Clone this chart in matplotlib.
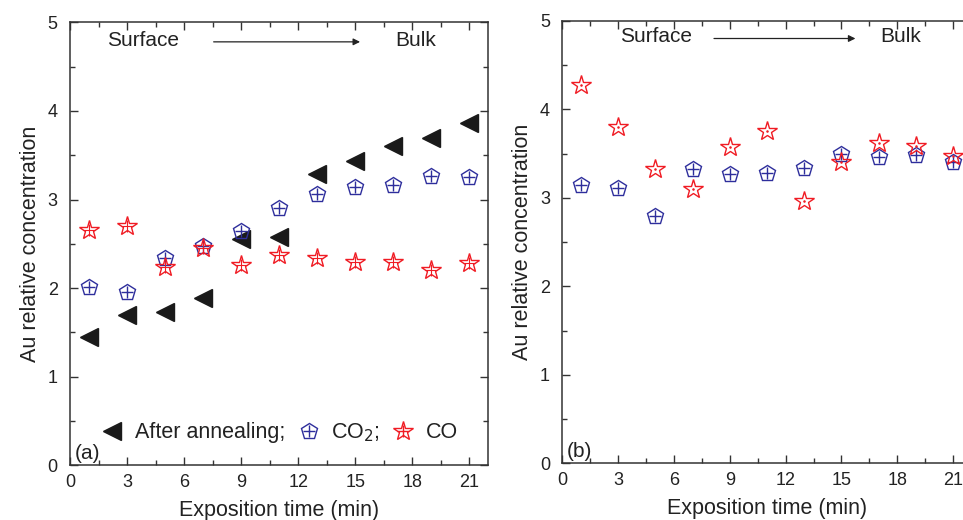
import matplotlib
matplotlib.use("Agg")
import matplotlib.pyplot as plt
from matplotlib.ticker import MultipleLocator
from matplotlib.lines import Line2D

plt.rcParams["font.family"] = ["Liberation Sans", "DejaVu Sans"]

# ---- data ----
time_min = [1, 3, 5, 7, 9, 11, 13, 15, 17, 19, 21]

# panel (a)
annealed_a = [1.45, 1.70, 1.73, 1.89, 2.55, 2.58, 3.29, 3.44, 3.60, 3.70, 3.86]
co2_a = [2.01, 1.96, 2.34, 2.48, 2.64, 2.91, 3.06, 3.14, 3.16, 3.27, 3.25]
co_a = [2.66, 2.70, 2.24, 2.45, 2.26, 2.37, 2.34, 2.29, 2.29, 2.21, 2.28]

# panel (b)
co2_b = [3.14, 3.11, 2.79, 3.33, 3.27, 3.28, 3.34, 3.50, 3.46, 3.48, 3.41]
co_b = [4.27, 3.80, 3.33, 3.10, 3.57, 3.76, 2.96, 3.41, 3.62, 3.58, 3.47]

BLUE = "#2e2e9c"
RED = "#f01c24"
INK = "#222222"

fig = plt.figure(figsize=(9.63, 5.2), dpi=100)
ax_a = fig.add_axes([0.073, 0.105, 0.434, 0.852])
ax_b = fig.add_axes([0.584, 0.109, 0.425, 0.851])


def pentagons(ax, y):
    ax.plot(time_min, y, linestyle="none", marker="p", ms=12,
            mfc="none", mec=BLUE, mew=1.0)
    ax.plot(time_min, y, linestyle="none", marker="+", ms=9,
            mec=BLUE, mew=1.0)


def stars(ax, y, inner):
    ax.plot(time_min, y, linestyle="none", marker="*", ms=15,
            mfc="none", mec=RED, mew=1.0)
    ax.plot(time_min, y, linestyle="none", marker=inner,
            ms=8 if inner == "+" else 2, mec=RED, mfc=RED, mew=0.8)


# ---- panel (a) ----
ax_a.plot(time_min, annealed_a, linestyle="none", marker="<", ms=13,
          color="#1a1a1a")
pentagons(ax_a, co2_a)
stars(ax_a, co_a, "+")

# ---- panel (b) ----
pentagons(ax_b, co2_b)
stars(ax_b, co_b, ".")

for ax, tag in [(ax_a, "(a)"), (ax_b, "(b)")]:
    ax.set_xlim(0, 22)
    ax.set_ylim(0, 5)
    ax.xaxis.set_major_locator(MultipleLocator(3))
    ax.xaxis.set_minor_locator(MultipleLocator(1.5))
    ax.yaxis.set_major_locator(MultipleLocator(1))
    ax.yaxis.set_minor_locator(MultipleLocator(0.5))
    ax.tick_params(which="both", direction="in", labelsize=13,
                   color="#333333", width=1, labelcolor=INK)
    ax.tick_params(which="major", length=6)
    ax.tick_params(axis="x", which="major", pad=6)
    ax.tick_params(axis="y", which="major", pad=9)
    ax.tick_params(which="minor", length=3.5)
    ax.tick_params(top=True, right=True, which="both", labeltop=False,
                   labelright=False)
    for s in ax.spines.values():
        s.set_color("#333333")
        s.set_linewidth(1.1)
    ax.set_xlabel("Exposition time (min)", fontsize=15.5, labelpad=7,
                  color=INK)
    ax.set_ylabel("Au relative concentration", fontsize=15.5, labelpad=5,
                  color=INK)
    ax.text(0.25, 0.07, tag, fontsize=15, color=INK)

# surface -> bulk annotations
ax_a.text(1.95, 4.8, "Surface", fontsize=15, va="center", color=INK)
ax_a.annotate("", xy=(15.4, 4.78), xytext=(7.4, 4.78),
              arrowprops=dict(arrowstyle="-|>", color=INK, lw=0.9,
                              mutation_scale=10))
ax_a.text(17.1, 4.8, "Bulk", fontsize=15, va="center", color=INK)

ax_b.text(3.1, 4.82, "Surface", fontsize=15, va="center", color=INK)
ax_b.annotate("", xy=(15.9, 4.8), xytext=(8.0, 4.8),
              arrowprops=dict(arrowstyle="-|>", color=INK, lw=0.9,
                              mutation_scale=10))
ax_b.text(17.1, 4.82, "Bulk", fontsize=15, va="center", color=INK)

# legend in panel (a)
handles = [
    Line2D([], [], linestyle="none", marker="<", ms=13, color="#1a1a1a"),
    (Line2D([], [], linestyle="none", marker="p", ms=12, mfc="none", mec=BLUE),
     Line2D([], [], linestyle="none", marker="+", ms=9, mec=BLUE)),
    (Line2D([], [], linestyle="none", marker="*", ms=15, mfc="none", mec=RED),
     Line2D([], [], linestyle="none", marker="+", ms=8, mec=RED)),
]
leg = ax_a.legend(handles, ["After annealing;", "CO$_2$;", "CO"], ncol=3,
                  loc="lower left", bbox_to_anchor=(0.038, 0.015),
                  frameon=False, fontsize=15.5, handlelength=1.0,
                  handletextpad=0.55, columnspacing=0.6, borderpad=0.2)
for t in leg.get_texts():
    t.set_color(INK)

fig.savefig("out.png", dpi=100)
